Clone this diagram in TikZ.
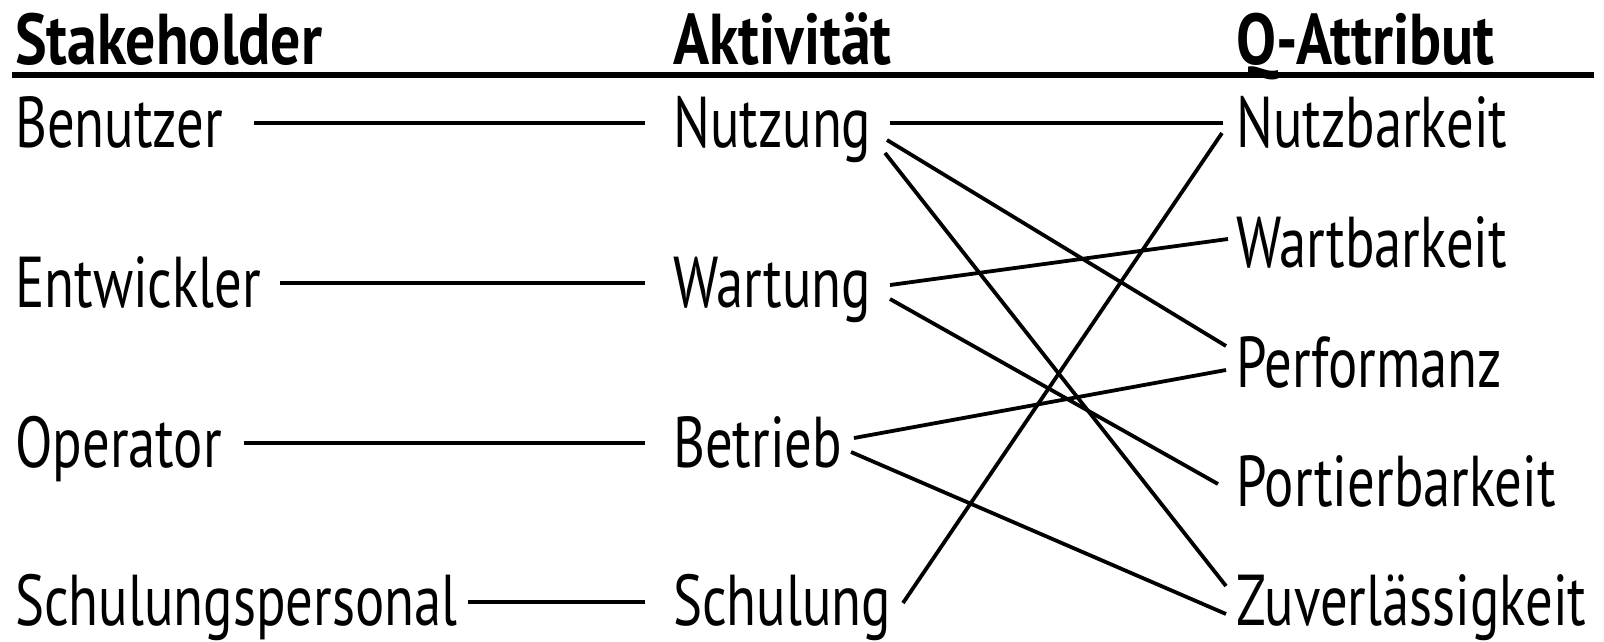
\documentclass[tikz,border=0pt]{standalone}
\usepackage{fontspec}
\setmainfont[FakeStretch=0.76]{PT Sans}
\newfontfamily\headfont[FakeStretch=0.83]{PT Sans}
\begin{document}
\begin{tikzpicture}[x=1pt,y=-1pt,
  lab/.style={anchor=base west,inner sep=0pt,font=\fontsize{72}{80}\selectfont},
  head/.style={anchor=base west,inner sep=0pt,font=\fontsize{72}{80}\headfont\bfseries},
  conn/.style={line width=3.8pt},
  rulel/.style={line width=6pt}]
\useasboundingbox (0,0) rectangle (1604,642);
% headers
\node[head] (hs) at (15,64) {Stakeholder};
\node[head] (ha) at (673,64) {Aktivität};
\node[head] (hq) at (1236,64) {Q-Attribut};
\coordinate (rl) at (12,75);
\coordinate (rr) at (1594,75);
\draw[rulel] (rl) -- (rr);
% stakeholders
\node[lab] (ben) at (15,147) {Benutzer};
\node[lab] (ent) at (15,307) {Entwickler};
\node[lab] (ope) at (15,467) {Operator};
\node[lab] (sch) at (15,625) {Schulungspersonal};
% activities
\node[lab] (nut) at (673,147) {Nutzung};
\node[lab] (war) at (673,307) {Wartung};
\node[lab] (bet) at (673,467) {Betrieb};
\node[lab] (sul) at (673,625) {Schulung};
% quality attributes
\node[lab] (qnu) at (1236,147) {Nutzbarkeit};
\node[lab] (qwa) at (1236,267) {Wartbarkeit};
\node[lab] (qpe) at (1236,387) {Performanz};
\node[lab] (qpo) at (1236,506) {Portierbarkeit};
\node[lab] (qzu) at (1236,625) {Zuverlässigkeit};
% stakeholder -> activity
\draw[conn] ([shift={(239,-24)}]ben.base west) -- ([shift={(-28,-24)}]nut.base west);
\draw[conn] ([shift={(265,-24)}]ent.base west) -- ([shift={(-28,-24)}]war.base west);
\draw[conn] ([shift={(229,-24)}]ope.base west) -- ([shift={(-28,-24)}]bet.base west);
\draw[conn] ([shift={(453,-23)}]sch.base west) -- ([shift={(-28,-23)}]sul.base west);
% activity -> attribute
\draw[conn] ([shift={(217,-24)}]nut.base west) -- ([shift={(-13,-24)}]qnu.base west);
\draw[conn] ([shift={(214,-7)}]nut.base west) -- ([shift={(-10,-41)}]qpe.base west);
\draw[conn] ([shift={(212,6)}]nut.base west) -- ([shift={(-10,-39)}]qzu.base west);
\draw[conn] ([shift={(217,-22)}]war.base west) -- ([shift={(-8,-28)}]qwa.base west);
\draw[conn] ([shift={(217,-8)}]war.base west) -- ([shift={(-18,-22)}]qpo.base west);
\draw[conn] ([shift={(181,-29)}]bet.base west) -- ([shift={(-10,-17)}]qpe.base west);
\draw[conn] ([shift={(178,-15)}]bet.base west) -- ([shift={(-10,-11)}]qzu.base west);
\draw[conn] ([shift={(230,-22)}]sul.base west) -- ([shift={(-14,-14)}]qnu.base west);
\end{tikzpicture}
\end{document}
